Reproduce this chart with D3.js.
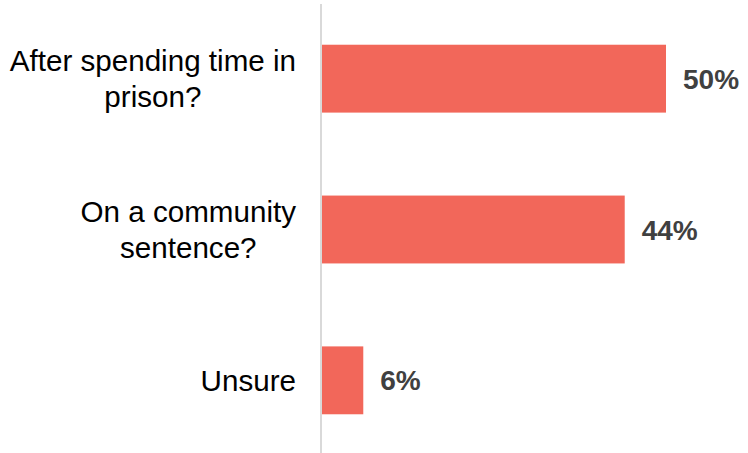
<!DOCTYPE html>
<html>
<head>
<meta charset="utf-8">
<script src="https://cdn.jsdelivr.net/npm/d3@7"></script>
<style>
  html, body { margin: 0; padding: 0; background: #fff; }
  svg { display: block; }
</style>
</head>
<body>
<svg id="chart" width="748" height="453"></svg>
<script>
// Survey answers and their shares (%)
const categories = ["After spending time in prison?", "On a community sentence?", "Unsure"];
const values = [50, 44, 6];
const valueLabels = ["50%", "44%", "6%"];

const width = 748, height = 453;
const axisX = 321;
const labelRight = 296;
const wrapWidth = 295;

const svg = d3.select("#chart");

const x = d3.scaleLinear().domain([0, 50]).range([axisX + 1, 666]);
const y = d3.scaleBand().domain(categories).range([4, 455])
  .paddingInner(0.55).paddingOuter(0.27);

// Bars
svg.append("g").selectAll("rect")
  .data(categories)
  .join("rect")
  .attr("x", x(0))
  .attr("y", d => y(d))
  .attr("width", (d, i) => x(values[i]) - x(0))
  .attr("height", y.bandwidth())
  .attr("fill", "#F2675A");

// Vertical baseline
svg.append("line")
  .attr("x1", axisX).attr("x2", axisX)
  .attr("y1", 4).attr("y2", height)
  .attr("stroke", "#d9d9d9").attr("stroke-width", 2);

// Value labels
svg.append("g").selectAll("text")
  .data(categories)
  .join("text")
  .attr("x", (d, i) => x(values[i]) + 17)
  .attr("y", d => y(d) + y.bandwidth() / 2)
  .attr("dy", "0.36em")
  .attr("font-family", "Liberation Sans, Arial, sans-serif")
  .attr("font-weight", "bold")
  .attr("font-size", 28)
  .attr("fill", "#404040")
  .text((d, i) => valueLabels[i]);

// Category labels, word-wrapped, lines centred within a right-aligned block
const fontSize = 29.6, lineH = fontSize * 1.2;
const catG = svg.append("g");
categories.forEach(cat => {
  const t = catG.append("text")
    .attr("font-family", "Liberation Sans, Arial, sans-serif")
    .attr("font-size", fontSize)
    .attr("fill", "#000");
  const words = cat.split(" ");
  const lines = [];
  let cur = [];
  const probe = t.append("tspan");
  words.forEach(w => {
    const trial = cur.concat(w).join(" ");
    probe.text(trial);
    if (probe.node().getComputedTextLength() > wrapWidth && cur.length) {
      lines.push(cur.join(" "));
      cur = [w];
    } else {
      cur.push(w);
    }
  });
  lines.push(cur.join(" "));
  let maxW = 0;
  lines.forEach(l => {
    probe.text(l);
    maxW = Math.max(maxW, probe.node().getComputedTextLength());
  });
  probe.remove();
  const cx = labelRight - maxW / 2;
  const cy = y(cat) + y.bandwidth() / 2;
  const top = cy - (lines.length - 1) * lineH / 2;
  lines.forEach((l, i) => {
    t.append("tspan")
      .attr("x", cx)
      .attr("y", top + i * lineH)
      .attr("dy", "0.35em")
      .attr("text-anchor", "middle")
      .text(l);
  });
});
</script>
</body>
</html>
